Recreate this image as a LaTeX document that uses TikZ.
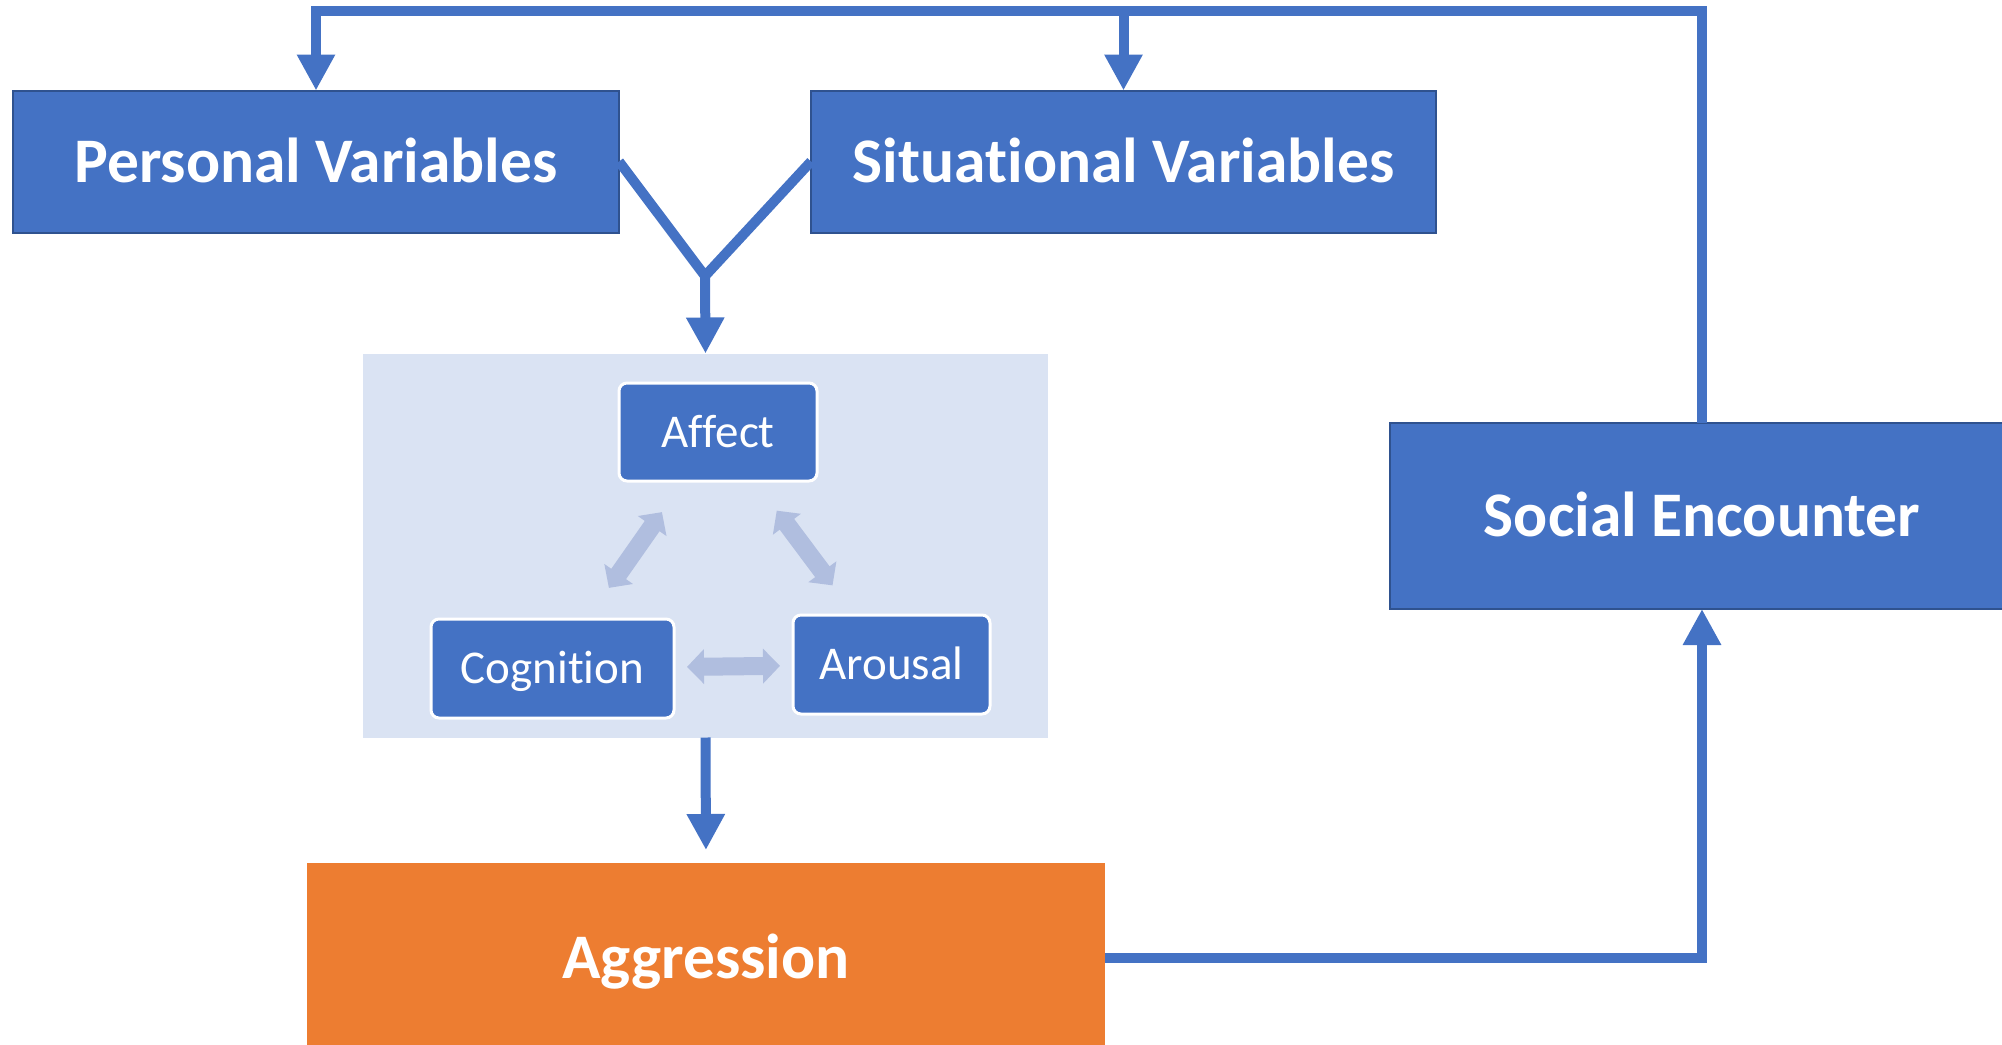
\documentclass[tikz,border=0pt]{standalone}
\usepackage{fontspec}
\setmainfont{Carlito}[Ligatures=NoCommon]
\usetikzlibrary{arrows.meta}
\definecolor{boxblue}{HTML}{4472C4}
\definecolor{edgeblue}{HTML}{2F528F}
\definecolor{paleblue}{HTML}{DAE3F3}
\definecolor{fadeblue}{RGB}{176,190,223}
\definecolor{aggorange}{HTML}{ED7D31}
\tikzset{
  bigbox/.style={draw=edgeblue, line width=2pt, fill=boxblue, text=white, inner sep=0pt, outer sep=0pt,
    font=\fontsize{63.5}{72}\selectfont\bfseries, text height=41pt, text depth=0pt},
  smallbox/.style={draw=white, line width=3pt, fill=boxblue, rounded corners=8pt, text=white, inner sep=0pt, outer sep=0pt,
    font=\fontsize{47}{56}\selectfont, text height=30pt, text depth=0pt},
  link/.style={draw=boxblue, line width=10pt},
  fatarrow/.style={draw=fadeblue, line width=18pt, {Triangle[width=34pt,length=17pt]}-{Triangle[width=34pt,length=17pt]}}
}
\begin{document}
\begin{tikzpicture}[x=1pt, y=-1pt, >={Triangle[width=36pt,length=36pt]}]
	\useasboundingbox (0,0) rectangle (2002,1044);
	\clip (0,0) rectangle (2002,1044);
	\path
	(705,276) coordinate (merge)
	(0,11) coordinate (ceil)
	;
	\node[bigbox, minimum width=606pt, minimum height=142pt] (pv) at (316,161.5) {Personal Variables};
	\node[bigbox, minimum width=625pt, minimum height=142pt] (sv) at (1123.5,161.5) {Situational Variables};
	\node[bigbox, minimum width=624pt, minimum height=186pt] (se) at (1702,516) {Social Encounter};
	\node[bigbox, draw=none, fill=aggorange, minimum width=798pt, minimum height=190pt] (agg) at (706,958) {Aggression};
	\node[fill=paleblue, inner sep=0pt, outer sep=0pt, minimum width=685pt, minimum height=384pt] (inner) at (705.5,545.5) {};
	\node[smallbox, minimum width=198pt, minimum height=98pt] (aff) at (718,432) {Affect};
	\node[smallbox, minimum width=243pt, minimum height=99pt] (cog) at (552.5,668.5) {Cognition};
	\node[smallbox, minimum width=197pt, minimum height=99pt] (aro) at (891.5,664.5) {Arousal};
	\foreach \a/\b/\s in {cog/aff/38pt, aff/aro/37pt, cog/aro/13pt}{
		\draw[fatarrow, shorten <=\s, shorten >=\s] (\a) -- (\b);
	};
	\draw[link] (pv.east) -- (merge) -- (sv.west);
	\draw[link,->] (merge) -- (inner.north);
	\draw[link,->,shorten >=13pt] (inner.south) -- (agg.north);
	\draw[link,->] (agg.east) -| (se.south);
	\draw[link,->] (se.north) -- (se.north |- ceil) -| (pv.north);
	\draw[link,->] (sv.north |- ceil) -- (sv.north);
\end{tikzpicture}
\end{document}
